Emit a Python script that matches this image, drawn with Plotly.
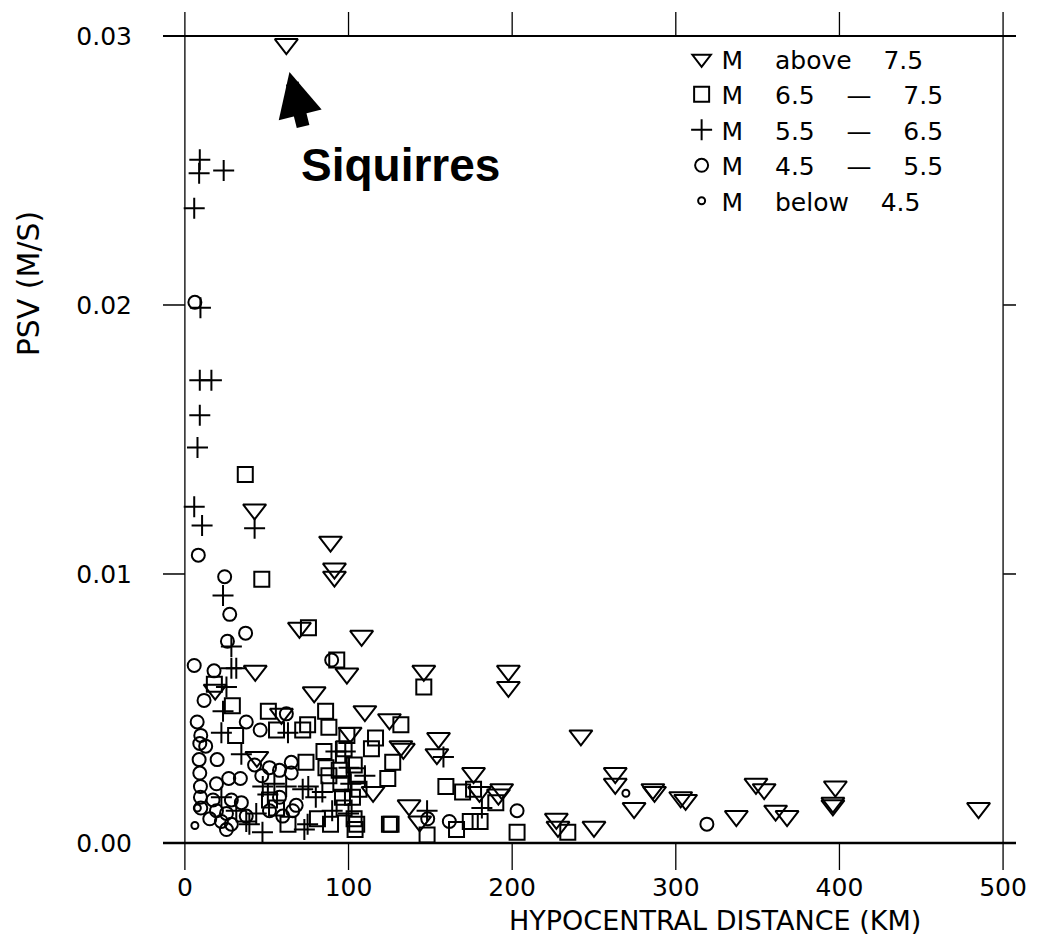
import plotly.graph_objects as go

# ---------------- data (hypocentral distance km, PSV m/s) ----------------
tri_km = [62, 42.6, 89, 91.4, 91.4, 70, 108, 43, 99, 146, 197.7, 197.7, 18.5, 79, 59, 110, 125,
          101, 132, 133.5, 155, 154, 242, 44, 115, 137, 143.5, 176.4, 180, 193.6, 191.6, 227, 228,
          250, 263, 263, 274.5, 286, 287, 303, 306, 337, 349, 354, 361, 368, 397.5, 396, 396, 485]
tri_psv = [0.0297, 0.0124, 0.0112, 0.0102, 0.0099, 0.0080, 0.0077, 0.0064, 0.0063, 0.0064, 0.0064,
           0.0058, 0.0057, 0.0056, 0.0048, 0.0049, 0.0046, 0.0041, 0.0036, 0.0035, 0.0039, 0.0033,
           0.0040, 0.0032, 0.0019, 0.0014, 0.0008, 0.0026, 0.0019, 0.0020, 0.0018, 0.0009, 0.0006,
           0.0006, 0.0026, 0.0022, 0.0013, 0.0020, 0.0019, 0.0017, 0.0016, 0.0010, 0.0022, 0.0020,
           0.0012, 0.0010, 0.0021, 0.0015, 0.0014, 0.0013]

sq_km = [36.9, 47, 75.5, 92.8, 146, 18, 86, 51, 29, 31, 56, 75, 72, 88, 99, 116.5, 132, 114, 85,
         97.3, 74, 86.2, 127, 88, 124, 159.5, 169.7, 176.4, 190, 203, 234, 148, 166, 174.4, 180.4,
         125, 126, 105, 104, 103.4, 94.3, 95.3, 96.3, 102.4, 97.3, 81, 89, 51.7, 56, 63,
         105.4, 106.4, 103.5]
sq_psv = [0.0137, 0.0098, 0.0080, 0.0068, 0.0058, 0.0059, 0.0049, 0.0049, 0.0051, 0.0040, 0.0042,
          0.0044, 0.0042, 0.0043, 0.0040, 0.0039, 0.0044, 0.0035, 0.0034, 0.0035, 0.0030, 0.0028,
          0.0030, 0.0025, 0.0024, 0.0021, 0.0019, 0.0020, 0.0015, 0.0004, 0.0004, 0.0003, 0.0005,
          0.0008, 0.0008, 0.0007, 0.0007, 0.0007, 0.0005, 0.0009, 0.0027, 0.0022, 0.0017, 0.0017,
          0.0013, 0.0009, 0.0007, 0.0016, 0.0013, 0.0007,
          0.0025, 0.0020, 0.0029]

pl_km = [9.1, 8.7, 23.7, 5.7, 9.5, 9.1, 16.2, 9.1, 7.7, 5.7, 42.6, 10.5, 23.3, 28.4, 28.4, 31.4,
         25.4, 23.3, 22.3, 34.5, 63, 92.3, 98, 50.7, 75.4, 148, 158, 181.5, 37.5, 47.4, 39.4, 73,
         47.6, 54.7, 61.9, 43.6, 100.3, 101.4, 100, 22.3, 31.4, 84, 90, 110, 72, 80, 75]
pl_psv = [0.0254, 0.0249, 0.0250, 0.0236, 0.0199, 0.0172, 0.0172, 0.0159, 0.0147, 0.0125, 0.0117,
          0.0118, 0.0092, 0.0073, 0.0065, 0.0065, 0.0058, 0.0049, 0.0041, 0.0033, 0.0041, 0.0034,
          0.0034, 0.0018, 0.0021, 0.0012, 0.0032, 0.0013, 0.0008, 0.0004, 0.0007, 0.0005, 0.0021,
          0.0022, 0.0021, 0.0011, 0.0028, 0.0022, 0.0011, 0.0017, 0.0012, 0.0019, 0.0012, 0.0025,
          0.0020, 0.0017, 0.0007]

ci_km = [6.1, 8.2, 24.3, 27.4, 37.1, 26, 5.7, 17.8, 89.7, 11.7, 62, 7.5, 37.5, 46, 9.7, 9.1, 12.7,
         19.7, 8.7, 42.6, 65, 9.1, 26.8, 33.9, 19.3, 9.5, 9.5, 47, 51.7, 57.8, 65, 203, 319, 161.6,
         148.4, 9.7, 17.2, 28.4, 34.5, 19.3, 25.4, 37.5, 15.2, 22.3, 28.4, 25.4, 57.8, 51.7, 59.8,
         65.9, 68]
ci_psv = [0.0201, 0.0107, 0.0099, 0.0085, 0.0078, 0.0075, 0.0066, 0.0064, 0.0068, 0.0053, 0.0048,
          0.0045, 0.0045, 0.0042, 0.0040, 0.0037, 0.0036, 0.0031, 0.0031, 0.0029, 0.0030, 0.0026,
          0.0024, 0.0024, 0.0022, 0.0021, 0.0017, 0.0025, 0.0028, 0.0027, 0.0026, 0.0012, 0.0007,
          0.0008, 0.0009, 0.0013, 0.0016, 0.0016, 0.0015, 0.0012, 0.0011, 0.0010, 0.0009, 0.0008,
          0.0007, 0.0005, 0.0017, 0.0012, 0.0010, 0.0012, 0.0014]

sm_km = [6.1, 7.6, 269.5]
sm_psv = [0.00065, 0.0013, 0.00185]

x_ticks = [0, 100, 200, 300, 400, 500]
y_ticks = [0.00, 0.01, 0.02, 0.03]
y_ticktext = ["0.00", "0.01", "0.02", "0.03"]

S = "\u00a0" * 4
names = [
    f"M{S}above{S}7.5",
    f"M{S}6.5{S}—{S}7.5",
    f"M{S}5.5{S}—{S}6.5",
    f"M{S}4.5{S}—{S}5.5",
    f"M{S}below{S}4.5",
]

TICK_FONT = dict(family="DejaVu Sans", size=25, color="black")
LABEL_FONT = dict(family="DejaVu Sans", size=27, color="black")
LEG_FONT = dict(family="DejaVu Sans", size=25, color="black")

fig = go.Figure()
series = [
    (tri_km, tri_psv, "triangle-down-open", 20),
    (sq_km, sq_psv, "square-open", 15),
    (pl_km, pl_psv, "cross-thin-open", 15),
    (ci_km, ci_psv, "circle-open", 13),
    (sm_km, sm_psv, "circle-open", 7),
]
for (xs, ys, sym, sz), nm in zip(series, names):
    fig.add_trace(go.Scatter(
        x=xs, y=ys, mode="markers", name=nm,
        marker=dict(symbol=sym, size=sz, color="black",
                    line=dict(color="black", width=2)),
    ))

# ---------------- frame ----------------
shapes = []
shapes.append(dict(type="line", xref="paper", yref="y", x0=0, x1=1, y0=0, y1=0,
                   line=dict(color="black", width=2.5)))
shapes.append(dict(type="line", xref="paper", yref="y", x0=0, x1=1, y0=0.03, y1=0.03,
                   line=dict(color="black", width=2)))
for xv in (0, 500):
    shapes.append(dict(type="line", xref="x", yref="paper", x0=xv, x1=xv, y0=0, y1=1,
                       line=dict(color="black", width=1.3)))
for xv in (100, 200, 300, 400):
    shapes.append(dict(type="line", xref="x", yref="paper", x0=xv, x1=xv, y0=0, y1=0.0315,
                       line=dict(color="black", width=1.3)))
    shapes.append(dict(type="line", xref="x", yref="paper", x0=xv, x1=xv, y0=0.972, y1=1,
                       line=dict(color="black", width=1.3)))
for yv in (0.01, 0.02):
    shapes.append(dict(type="line", xref="paper", yref="y", x0=0, x1=0.0257, y0=yv, y1=yv,
                       line=dict(color="black", width=1.5)))
    shapes.append(dict(type="line", xref="paper", yref="y", x0=0.985, x1=1, y0=yv, y1=yv,
                       line=dict(color="black", width=1.5)))

annotations = [
    dict(x=63.9, y=0.02866, xref="x", yref="y", text="", showarrow=True,
         ax=14, ay=56, arrowhead=2, arrowwidth=13, arrowsize=0.68, arrowcolor="black"),
    dict(x=131.5, y=0.0252, xref="x", yref="y", text="<b>Siquirres</b>", showarrow=False,
         font=dict(family="Liberation Sans", size=46, color="black")),
    dict(x=0.6476, y=-0.059, xref="paper", yref="paper", text="HYPOCENTRAL DISTANCE (KM)",
         showarrow=False, font=LABEL_FONT, xanchor="center", yanchor="middle"),
    dict(x=-0.158, y=0.684, xref="paper", yref="paper", text="PSV (M/S)", textangle=-90,
         showarrow=False, font=dict(family="DejaVu Sans", size=30, color="black"),
         xanchor="center", yanchor="middle"),
]

fig.update_layout(
    width=1039, height=935,
    margin=dict(l=163, r=19, t=12, b=65),
    paper_bgcolor="white", plot_bgcolor="white",
    showlegend=True,
    legend=dict(x=0.608, y=0.972, xanchor="left", yanchor="top",
                font=LEG_FONT, bgcolor="rgba(0,0,0,0)", borderwidth=0,
                itemsizing="trace", tracegroupgap=0),
    shapes=shapes, annotations=annotations,
    xaxis=dict(range=[-13.38, 507.9], tickvals=x_ticks, ticks="", showgrid=False,
               zeroline=False, showline=False, tickfont=TICK_FONT),
    yaxis=dict(range=[-0.001004, 0.030892], tickvals=y_ticks, ticktext=y_ticktext, ticks="",
               showgrid=False, zeroline=False, showline=False, tickfont=TICK_FONT,
               ticklabelstandoff=30),
)

fig.write_html("out.html")
